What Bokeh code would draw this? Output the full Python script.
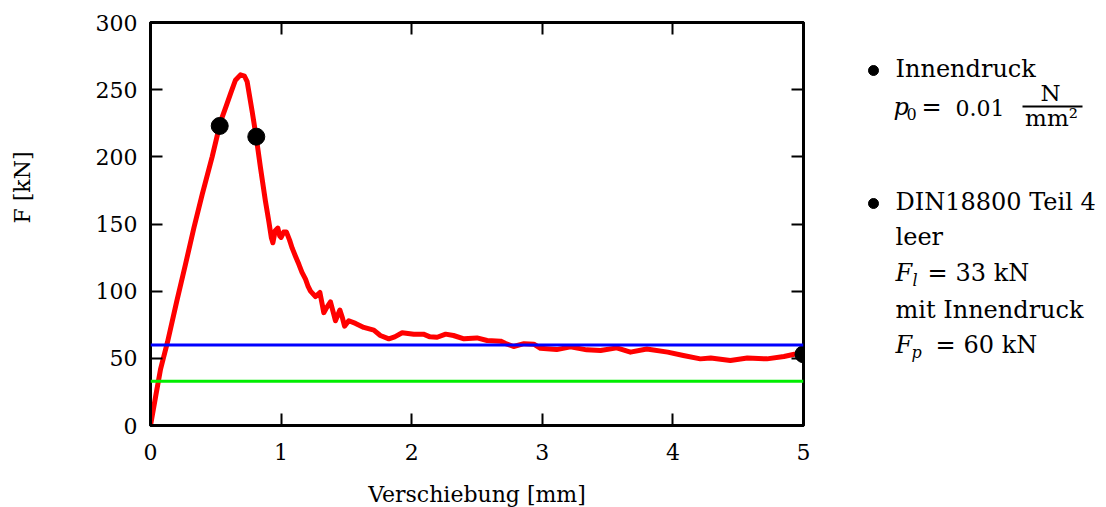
from math import pi
from bokeh.plotting import figure
from bokeh.layouts import row
from bokeh.models import LinearAxis, Range1d, Label, FixedTicker, Span
from bokeh.embed import file_html
from bokeh.resources import INLINE

# ---- data ----
disp = [0.0, 0.04, 0.077, 0.13, 0.2, 0.268, 0.332, 0.396, 0.472, 0.536, 0.58, 0.613, 0.65,
        0.689, 0.72, 0.74, 0.778, 0.809, 0.842, 0.88, 0.906, 0.925, 0.937, 0.955, 0.975,
        0.99, 1.0, 1.02, 1.041, 1.065, 1.085, 1.11, 1.136, 1.16, 1.187, 1.205, 1.225,
        1.263, 1.297, 1.315, 1.327, 1.35, 1.378, 1.40, 1.416, 1.45, 1.47, 1.486, 1.518,
        1.57, 1.633, 1.71, 1.76, 1.825, 1.87, 1.927, 2.016, 2.09, 2.14, 2.195, 2.26,
        2.32, 2.4, 2.5, 2.578, 2.68, 2.72, 2.78, 2.86, 2.935, 2.986, 3.11, 3.216, 3.34,
        3.446, 3.57, 3.675, 3.8, 3.96, 4.08, 4.21, 4.29, 4.44, 4.57, 4.72, 4.85, 4.93, 5.0]
force = [0, 22, 42, 62, 92, 120, 147, 172, 200, 226, 238, 247, 257,
         261, 260, 256, 234, 215, 192, 167, 152, 140, 136, 145, 147,
         141, 140, 144, 144, 138, 132, 126, 120, 114, 109, 104, 100,
         96, 99, 90, 84, 88, 92, 84, 78, 86, 80, 74, 78,
         76, 73, 71, 67, 64.5, 66, 69, 68, 68, 66, 65.7, 68,
         67, 64.5, 65.2, 63.3, 62.8, 61, 58.8, 60.9, 60.5, 57.5, 56.5, 58.5, 56.3,
         55.8, 57.8, 54.6, 57, 54.6, 52.1, 49.6, 50.3, 48.4, 50.3, 49.6, 51.4, 53, 53.4]
marker_disp = [0.53, 0.81, 5.0]
marker_force = [223, 215, 53]
limit_leer = 33
limit_innendruck = 60
x_ticks = [0, 1, 2, 3, 4, 5]
y_ticks = [0, 50, 100, 150, 200, 250, 300]

FONT = "DejaVu Serif"
TOP = 22
FRAME_H = 403
BOTTOM = 80
LEFT_W = 60
P_W = 90 + 653 + 20
LEG_W = 280

# ---------------- main plot ----------------
p = figure(frame_width=653, frame_height=FRAME_H,
           min_border_left=90, min_border_right=20, min_border_top=TOP, min_border_bottom=BOTTOM,
           x_range=Range1d(0, 5), y_range=Range1d(0, 300),
           x_axis_location=None, y_axis_location=None,
           output_backend="svg", toolbar_location=None)
p.grid.visible = False
p.outline_line_color = "black"
p.outline_line_width = 3
p.border_fill_color = "white"


def style_axis(ax, ticks, labels=True):
    ax.ticker = FixedTicker(ticks=ticks)
    ax.axis_line_color = "black"
    ax.axis_line_width = 3
    ax.major_tick_in = 12
    ax.major_tick_out = 0
    ax.major_tick_line_width = 2
    ax.minor_tick_in = 0
    ax.minor_tick_out = 0
    ax.major_label_text_font = FONT
    ax.axis_label_text_font = FONT
    ax.axis_label_text_font_style = "normal"
    ax.axis_label_text_color = "black"
    if labels:
        ax.major_label_text_font_size = "22px"
        ax.major_label_text_color = "black"
    else:
        ax.major_label_text_font_size = "1px"
        ax.major_label_text_color = None
        ax.major_label_standoff = 0


xb = LinearAxis(axis_label="Verschiebung [mm]")
style_axis(xb, x_ticks)
xb.major_label_standoff = 18
xb.axis_label_standoff = 19
xb.axis_label_text_font_size = "22px"
p.add_layout(xb, "below")

yl = LinearAxis()
style_axis(yl, y_ticks)
yl.major_label_standoff = 13
p.add_layout(yl, "left")

xt = LinearAxis()
style_axis(xt, x_ticks, labels=False)
p.add_layout(xt, "above")

yr = LinearAxis()
style_axis(yr, y_ticks, labels=False)
p.add_layout(yr, "right")

p.line(disp, force, line_color="#ff0000", line_width=5, line_join="round")
p.add_layout(Span(location=limit_innendruck, dimension="width", line_color="#0000ff", line_width=3))
p.add_layout(Span(location=limit_leer, dimension="width", line_color="#00ee00", line_width=3))
p.scatter(marker_disp, marker_force, size=17, color="black")


def blank_fig(w, x0):
    # frame aligned with the main plot's frame; data coords = page pixels
    f = figure(frame_width=w, frame_height=FRAME_H,
               x_range=Range1d(x0, x0 + w), y_range=Range1d(TOP + FRAME_H, TOP),
               min_border_left=0, min_border_right=0,
               min_border_top=TOP, min_border_bottom=BOTTOM,
               x_axis_location=None, y_axis_location=None,
               output_backend="svg", toolbar_location=None)
    f.grid.visible = False
    f.outline_line_color = None
    f.border_fill_color = "white"
    return f


# ---------------- y-axis label panel ----------------
yf = blank_fig(LEFT_W, 0)
yf.add_layout(Label(x=22, y=187, text="F [kN]", text_font=FONT, text_font_size="22px",
                    text_align="center", text_baseline="middle", angle=pi / 2,
                    text_color="black"))

# ---------------- legend panel (coords = page pixels) ----------------
X0 = LEFT_W + P_W
lg = blank_fig(LEG_W, X0)


def lab(text, x, baseline, size=24, style="normal", align="left"):
    # place by alphabetic baseline (em-box middle sits ~0.346 em above it)
    lg.add_layout(Label(x=x, y=baseline - 0.346 * size, text=text, text_font=FONT,
                        text_font_size=f"{size}px", text_font_style=style,
                        text_align=align, text_baseline="middle", text_color="black"))


lg.scatter([873, 873], [70, 203], size=10, color="black")
lab("Innendruck", 895, 77)
lab("p", 893, 115, style="italic")
lab("0", 906, 119, size=16)
lab("=", 921, 115)
lab("0.01", 955, 115, size=22)
lab("N", 1050, 100, size=23, align="center")
lg.segment(x0=[1022], y0=[106], x1=[1082], y1=[106], line_color="black", line_width=2)
lab("mm²", 1051, 125, size=23, align="center")

lab("DIN18800 Teil 4", 895, 210)
lab("leer", 895, 245)
lab("F", 895, 281, style="italic")
lab("l", 912, 286, size=16, style="italic")
lab("=", 927, 281)
lab("33 kN", 955, 281)
lab("mit Innendruck", 895, 318)
lab("F", 895, 353, style="italic")
lab("p", 911, 358, size=16, style="italic")
lab("=", 935, 353)
lab("60 kN", 963, 353)

layout = row(yf, p, lg, spacing=0)
open("out.html", "w").write(file_html(layout, INLINE))
